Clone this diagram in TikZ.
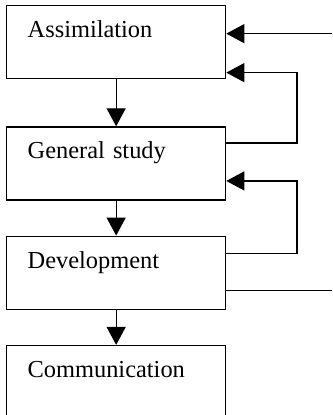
\documentclass[tikz,border=0pt]{standalone}
\usepackage{fontspec}
\setmainfont{Liberation Serif}
\usetikzlibrary{positioning,arrows.meta}

\begin{document}
\begin{tikzpicture}[stage/.style={draw,line width=0.65pt,rectangle,text width=88.5pt,inner xsep=10.5pt,inner ysep=0pt,
        text height=16pt,text depth=20.5pt,align=left,font=\fontsize{12.2}{14}\selectfont},
        flow/.style={line width=0.65pt,-{Triangle[width=9.5pt,length=9pt]}}]
        \useasboundingbox (0,0) rectangle (166pt,207.5pt);
        \node[stage,anchor=north west] (asm) at (3pt,205pt) {Assimilation};
        \node[stage,below=23.5pt of asm] (gen) {General study};
        \node[stage,below=17.5pt of gen] (dev) {Development};
        \node[stage,below=17.5pt of dev] (com) {Communication};
        \coordinate (rim) at (166pt,0);
        \coordinate (loop) at (148.5pt,0);
        \draw[flow] (asm) -- (gen);
        \draw[flow] (gen) -- (dev);
        \draw[flow] (dev) -- (com);
        \draw[flow] ([yshift=4.25pt]asm.east -| rim) -- ([yshift=4.25pt]asm.east);
        \draw[flow] ([yshift=10.25pt]gen.east) -| ([yshift=-15.25pt]asm.east -| loop) -- ([yshift=-15.25pt]asm.east);
        \draw[flow] ([yshift=9.75pt]dev.east) -| ([yshift=-8.75pt]gen.east -| loop) -- ([yshift=-8.75pt]gen.east);
        \draw[line width=0.65pt] ([yshift=-8.75pt]dev.east) -- ([yshift=-8.75pt]dev.east -| rim);
\end{tikzpicture}
\end{document}
